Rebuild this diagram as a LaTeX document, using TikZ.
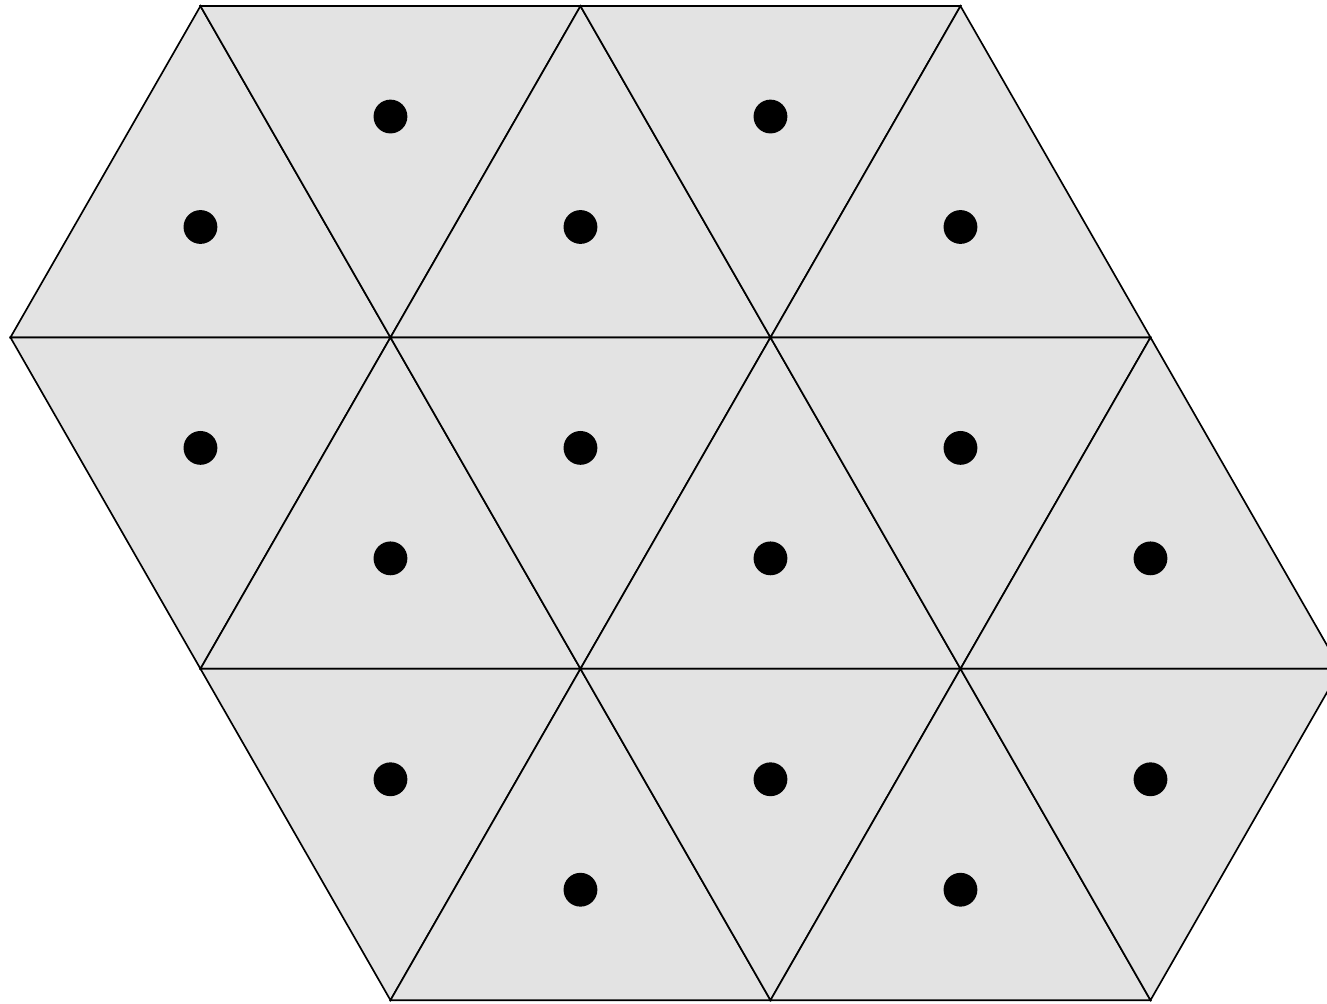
\documentclass[tikz,border=0pt]{standalone}
\usepackage{xcolor}
\usepackage{tikz}
\definecolor{tilegray}{HTML}{E3E3E3}

\begin{document}
\begin{tikzpicture}[
    tri/.style={draw=black, fill=tilegray, line width=0.5pt, line join=miter},
    dot/.style={fill=black}
  ]
    \clip (0,0) rectangle (13.968,10.558);

    % Lattice points
    \coordinate (t1) at (2.11,10.494);
    \coordinate (t2) at (6.11,10.494);
    \coordinate (t3) at (10.11,10.494);
    \coordinate (m1) at (0.11,7.006);
    \coordinate (m2) at (4.11,7.006);
    \coordinate (m3) at (8.11,7.006);
    \coordinate (m4) at (12.11,7.006);
    \coordinate (n1) at (2.11,3.518);
    \coordinate (n2) at (6.11,3.518);
    \coordinate (n3) at (10.11,3.518);
    \coordinate (n4) at (14.11,3.518);
    \coordinate (b1) at (4.11,0.03);
    \coordinate (b2) at (8.11,0.03);
    \coordinate (b3) at (12.11,0.03);

    % Triangles
    \draw[tri] (m1) -- (t1) -- (m2) -- cycle;
    \draw[tri] (t1) -- (t2) -- (m2) -- cycle;
    \draw[tri] (m2) -- (t2) -- (m3) -- cycle;
    \draw[tri] (t2) -- (t3) -- (m3) -- cycle;
    \draw[tri] (m3) -- (t3) -- (m4) -- cycle;
    \draw[tri] (m1) -- (m2) -- (n1) -- cycle;
    \draw[tri] (n1) -- (m2) -- (n2) -- cycle;
    \draw[tri] (m2) -- (m3) -- (n2) -- cycle;
    \draw[tri] (n2) -- (m3) -- (n3) -- cycle;
    \draw[tri] (m3) -- (m4) -- (n3) -- cycle;
    \draw[tri] (n3) -- (m4) -- (n4) -- cycle;
    \draw[tri] (n1) -- (n2) -- (b1) -- cycle;
    \draw[tri] (b1) -- (n2) -- (b2) -- cycle;
    \draw[tri] (n2) -- (n3) -- (b2) -- cycle;
    \draw[tri] (b2) -- (n3) -- (b3) -- cycle;
    \draw[tri] (n3) -- (n4) -- (b3) -- cycle;

    % Dots
    \fill[dot] (barycentric cs:m1=1,t1=1,m2=1) circle (0.178);
    \fill[dot] (barycentric cs:t1=1,t2=1,m2=1) circle (0.178);
    \fill[dot] (barycentric cs:m2=1,t2=1,m3=1) circle (0.178);
    \fill[dot] (barycentric cs:t2=1,t3=1,m3=1) circle (0.178);
    \fill[dot] (barycentric cs:m3=1,t3=1,m4=1) circle (0.178);
    \fill[dot] (barycentric cs:m1=1,m2=1,n1=1) circle (0.178);
    \fill[dot] (barycentric cs:n1=1,m2=1,n2=1) circle (0.178);
    \fill[dot] (barycentric cs:m2=1,m3=1,n2=1) circle (0.178);
    \fill[dot] (barycentric cs:n2=1,m3=1,n3=1) circle (0.178);
    \fill[dot] (barycentric cs:m3=1,m4=1,n3=1) circle (0.178);
    \fill[dot] (barycentric cs:n3=1,m4=1,n4=1) circle (0.178);
    \fill[dot] (barycentric cs:n1=1,n2=1,b1=1) circle (0.178);
    \fill[dot] (barycentric cs:b1=1,n2=1,b2=1) circle (0.178);
    \fill[dot] (barycentric cs:n2=1,n3=1,b2=1) circle (0.178);
    \fill[dot] (barycentric cs:b2=1,n3=1,b3=1) circle (0.178);
    \fill[dot] (barycentric cs:n3=1,n4=1,b3=1) circle (0.178);
  \end{tikzpicture}
\end{document}
